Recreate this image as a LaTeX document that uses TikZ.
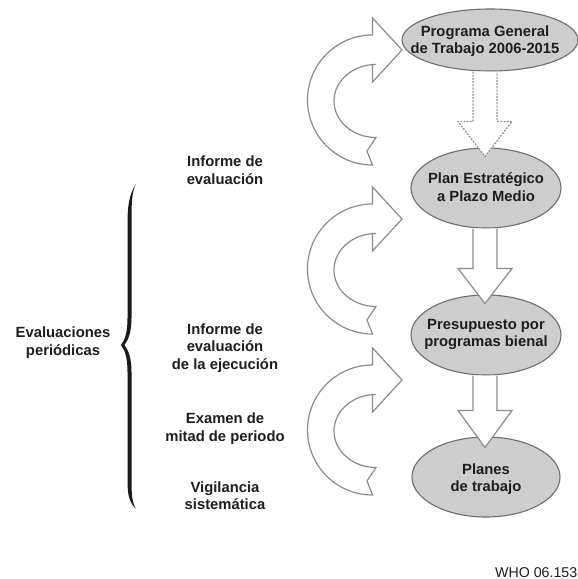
\documentclass[tikz,border=0pt]{standalone}
\usepackage{fontspec}
\setmainfont{Liberation Sans}
\usetikzlibrary{shapes.geometric,calc}
\definecolor{ellfill}{HTML}{CDCDCD}
\definecolor{ellline}{HTML}{6E6E6E}
\definecolor{arrline}{HTML}{8C8C8C}
\definecolor{txt}{HTML}{1E1E1E}
\tikzset{
  ellbox/.style={ellipse, draw=ellline, line width=1.1pt, fill=ellfill, inner sep=0pt},
  elltext/.style={align=center, font=\bfseries\fontsize{14.8}{17.5}\selectfont, text=txt, inner sep=0pt},
  lbl/.style={align=center, font=\bfseries\fontsize{14.8}{17.5}\selectfont, text=txt, inner sep=0pt},
  curvarrow/.style={draw=arrline, fill=white, line width=1.2pt, line join=miter},
  blockarrow/.style={draw=arrline, fill=white, line width=1.2pt, line join=miter},
  dashedarrow/.style={blockarrow, dash pattern=on 1.8pt off 1.4pt}
}
\begin{document}
\begin{tikzpicture}[x=1pt,y=-1pt]
\useasboundingbox (0,0) rectangle (578,579);
\clip (0,0) rectangle (578,579);
\fill[white] (0,0) rectangle (578,579);

% ellipses
\node[ellbox, minimum width=176pt, minimum height=62pt] (e1) at (490,40) {};
\node[ellbox, minimum width=150pt, minimum height=80pt] (e2) at (486,188) {};
\node[ellbox, minimum width=150pt, minimum height=80pt] (e3) at (486,335) {};
\node[ellbox, minimum width=148pt, minimum height=80pt] (e4) at (486,477) {};

\node[elltext] (t1) at ($(e1)+(-5,1)$) {Programa General\\de Trabajo 2006-2015};
\node[elltext] (t2) at ($(e2)+(0,-1)$) {Plan Estratégico\\a Plazo Medio};
\node[elltext] (t3) at ($(e3)+(0,-0.5)$) {Presupuesto por\\programas bienal};
\node[elltext] (t4) at ($(e4)+(0,2)$) {Planes\\de trabajo};

% down block arrows
\draw[dashedarrow] let \p1=(e1.south), \p2=(e2.north) in
  (\x2-13pt,\y1) -- (\x2-13pt,\y2+26pt) -- (\x2-28pt,\y2+26pt) -- (\x2-1pt,\y2-9pt)
  -- (\x2+26pt,\y2+26pt) -- (\x2+11pt,\y2+26pt) -- (\x2+11pt,\y1);
\draw[blockarrow] let \p1=(e2.south), \p2=(e3.north) in
  (\x2-13pt,\y1) -- (\x2-13pt,\y2+26pt) -- (\x2-28pt,\y2+26pt) -- (\x2-1pt,\y2-9pt)
  -- (\x2+26pt,\y2+26pt) -- (\x2+11pt,\y2+26pt) -- (\x2+11pt,\y1);
\draw[blockarrow] let \p1=(e3.south), \p2=(e4.north) in
  (\x2-13pt,\y1) -- (\x2-13pt,\y2+26pt) -- (\x2-28pt,\y2+26pt) -- (\x2-1pt,\y2-11pt)
  -- (\x2+26pt,\y2+26pt) -- (\x2+11pt,\y2+26pt) -- (\x2+11pt,\y1);

% curved feedback arrows
\foreach \s in {0,169,330}{
  \begin{scope}[shift={(0,\s)}]
    \draw[curvarrow] (402,50) -- (372.5,18) -- (372.5,35)
      arc[start angle=270, end angle=90, radius=65]
      -- (367,151) -- (376,137.5)
      arc[start angle=90, end angle=270, x radius=42, y radius=36.5]
      -- (372.5,64.5) -- (372.5,82) -- cycle;
  \end{scope}
}

% brace
\fill[black!90] (136,184) .. controls (131.5,192) and (131.5,205) .. (131.5,225)
  -- (131.5,318) .. controls (131.5,333) and (128,340) .. (124.5,345)
  .. controls (128,350) and (131.5,357) .. (131.5,372)
  -- (131.5,480) .. controls (131.5,495) and (132,502) .. (136,509)
  .. controls (129,502) and (127.5,495) .. (127.5,480)
  -- (127.5,372) .. controls (127.5,358) and (125,350) .. (121,345)
  .. controls (125,340) and (127.5,332) .. (127.5,318)
  -- (127.5,225) .. controls (127.5,205) and (129,195) .. (136,184) -- cycle;

% labels
\node[lbl] (l1) at (225,170) {Informe de\\evaluación};
\node[lbl] (l2) at (225,347.7) {Informe de\\evaluación\\de la ejecución};
\node[lbl] (l3) at (225,428.7) {Examen de\\mitad de periodo};
\node[lbl] (l4) at (225,495.6) {Vigilancia\\sistemática};
\node[lbl] (l5) at (63,342.7) {Evaluaciones\\periódicas};

\node[anchor=base west, inner sep=0pt, text=txt, font=\fontsize{14.2}{16}\selectfont] (who) at (495,577) {WHO 06.153};
\end{tikzpicture}
\end{document}
